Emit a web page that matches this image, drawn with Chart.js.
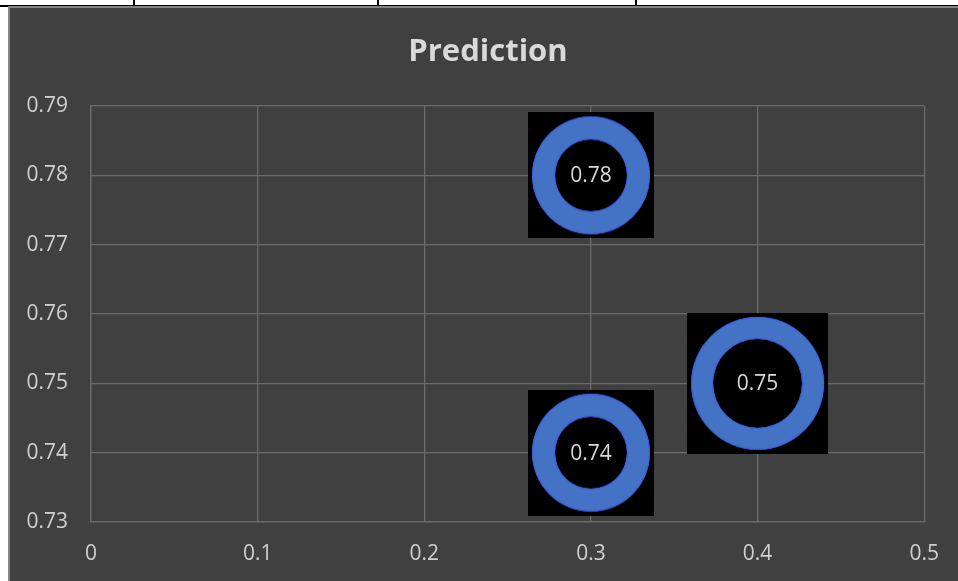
<!DOCTYPE html>
<html>
<head>
<meta charset="utf-8">
<script src="https://cdn.jsdelivr.net/npm/chart.js@4/dist/chart.umd.min.js"></script>
<style>
  html, body { margin: 0; padding: 0; background: #ffffff; }
  body { width: 958px; height: 581px; position: relative; overflow: hidden; }
  .rule { position: absolute; background: #000; }
  #box {
    position: absolute; left: 8px; top: 6px; width: 948px; height: 573px;
    background: #404040; border-left: 2px solid #858585; border-top: 2px solid #858585;
  }
</style>
</head>
<body>
<!-- garis tabel di atas grafik -->
<div class="rule" style="left:0;top:5px;width:958px;height:2px"></div>
<div class="rule" style="left:133px;top:0;width:2px;height:6px"></div>
<div class="rule" style="left:377px;top:0;width:2px;height:6px"></div>
<div class="rule" style="left:635px;top:0;width:2px;height:6px"></div>

<div id="box"><canvas id="predChart" width="948" height="573"></canvas></div>

<script>
// Data prediksi
const xValues = [0.3, 0.4, 0.3];
const yValues = [0.78, 0.75, 0.74];
const xTickLabels = ['0', '0.1', '0.2', '0.3', '0.4', '0.5'];
const yTickLabels = ['0.73', '0.74', '0.75', '0.76', '0.77', '0.78', '0.79'];

// ukuran marker (kotak hitam + cincin biru)
const markerLook = [
  { box: 126, outer: 59, inner: 36 },
  { box: 141, outer: 66.5, inner: 44.5 },
  { box: 126, outer: 59, inner: 36 }
];

function makeMarker(m) {
  const c = document.createElement('canvas');
  c.width = m.box; c.height = m.box;
  const g = c.getContext('2d');
  const h = m.box / 2;
  g.fillStyle = '#000000';
  g.fillRect(0, 0, m.box, m.box);
  g.beginPath();
  g.arc(h, h, m.outer, 0, Math.PI * 2);
  g.arc(h, h, m.inner, 0, Math.PI * 2, true);
  g.fillStyle = '#4472c4';
  g.fill('evenodd');
  g.lineWidth = 1;
  g.strokeStyle = '#3d5cf0';
  g.beginPath(); g.arc(h, h, m.outer - 0.5, 0, Math.PI * 2); g.stroke();
  g.beginPath(); g.arc(h, h, m.inner + 0.5, 0, Math.PI * 2); g.stroke();
  return c;
}

const points = xValues.map((x, i) => ({ x: x, y: yValues[i] }));
const markers = markerLook.map(makeMarker);

// label nilai di tengah marker
const valueLabels = {
  id: 'valueLabels',
  afterDatasetsDraw(chart) {
    const ctx = chart.ctx;
    const meta = chart.getDatasetMeta(0);
    ctx.save();
    ctx.font = '21px "Open Sans"';
    ctx.fillStyle = '#d9d9d9';
    ctx.textAlign = 'center';
    ctx.textBaseline = 'middle';
    meta.data.forEach((pt, i) => {
      ctx.fillText(yValues[i].toFixed(2), pt.x, pt.y + 1);
    });
    ctx.restore();
  }
};

// judul digambar sendiri supaya posisinya di tengah kotak
const titleText = {
  id: 'titleText',
  afterDraw(chart) {
    const ctx = chart.ctx;
    ctx.save();
    ctx.font = 'bold 31px "Open Sans"';
    ctx.fillStyle = '#d9d9d9';
    ctx.textAlign = 'center';
    ctx.textBaseline = 'middle';
    ctx.fillText('Prediction', 478, 44);
    ctx.restore();
  }
};

const gridColor = '#6b6b6b';
const textColor = '#d0d0d0';

new Chart(document.getElementById('predChart').getContext('2d'), {
  type: 'scatter',
  data: {
    datasets: [{
      label: 'Prediction',
      data: points,
      pointStyle: markers,
      pointRadius: 1,
      pointHoverRadius: 1,
      clip: false
    }]
  },
  options: {
    responsive: false,
    animation: false,
    events: [],
    layout: { padding: { left: 0, right: 24, top: 98, bottom: 0 } },
    plugins: {
      legend: { display: false },
      tooltip: { enabled: false },
      title: { display: false }
    },
    scales: {
      x: {
        type: 'linear',
        min: 0, max: 0.5,
        afterFit(s) { s.height = 59; },
        afterBuildTicks(s) { s.ticks = xTickLabels.map((t, i) => ({ value: i * 0.1 })); },
        ticks: {
          color: textColor,
          font: { family: '"Open Sans"', size: 21 },
          padding: 19,
          maxRotation: 0,
          callback: (v, i) => xTickLabels[i]
        },
        grid: { color: gridColor, lineWidth: 1.3, drawTicks: false },
        border: { color: gridColor, width: 1.3 }
      },
      y: {
        type: 'linear',
        min: 0.73, max: 0.79,
        afterFit(s) { s.width = 81; },
        afterBuildTicks(s) { s.ticks = yTickLabels.map(t => ({ value: parseFloat(t) })); },
        ticks: {
          color: textColor,
          font: { family: '"Open Sans"', size: 21 },
          padding: 23,
          callback: (v, i) => yTickLabels[i]
        },
        grid: { color: gridColor, lineWidth: 1.3, drawTicks: false },
        border: { color: gridColor, width: 1.3 }
      }
    }
  },
  plugins: [valueLabels, titleText]
});
</script>
</body>
</html>
